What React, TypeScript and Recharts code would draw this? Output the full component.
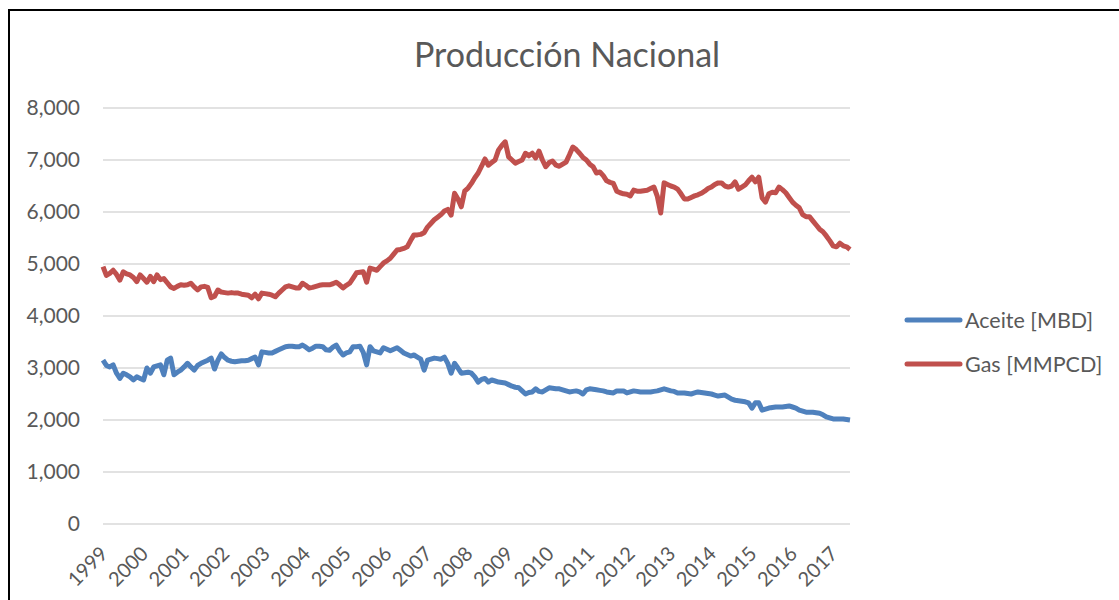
import React from "react";
import { LineChart, Line, XAxis, YAxis, CartesianGrid, Legend } from "recharts";

const START_YEAR = 1999;
const MONTH_COUNT = 222;

// Monthly categories Jan 1999 .. Jun 2017
const months: string[] = Array.from({ length: MONTH_COUNT }, (_, i) =>
  `${START_YEAR + Math.floor(i / 12)}-${String((i % 12) + 1).padStart(2, "0")}`
);

// Tick labels: every January
const yearTicks: string[] = months.filter((m) => m.endsWith("-01"));

const yTicks = [0, 1000, 2000, 3000, 4000, 5000, 6000, 7000, 8000];

// Aceite [MBD]
const oil = [
  3150, 3050, 3020, 3060, 2900, 2800, 2900, 2870, 2830, 2770, 2830, 2800,
  2770, 3000, 2900, 3020, 3040, 3060, 2870, 3150, 3190, 2870, 2920, 2960,
  3020, 3090, 3020, 2960, 3050, 3090, 3120, 3150, 3190, 2980, 3150, 3270,
  3200, 3150, 3130, 3120, 3130, 3140, 3140, 3150, 3180, 3210, 3060, 3310,
  3300, 3290, 3290, 3320, 3350, 3380, 3410, 3420, 3420, 3410, 3410, 3440,
  3400, 3350, 3380, 3420, 3420, 3410, 3350, 3340, 3400, 3440, 3330, 3250,
  3290, 3310, 3410, 3410, 3420, 3300, 3060, 3410, 3330, 3310, 3290, 3390,
  3360, 3330, 3360, 3390, 3340, 3290, 3260, 3230, 3250, 3210, 3170, 2960,
  3150, 3170, 3190, 3180, 3170, 3210, 3090, 2900, 3090, 3000, 2900, 2910,
  2920, 2900, 2830, 2730, 2780, 2800, 2730, 2770, 2750, 2730, 2720, 2710,
  2680, 2650, 2630, 2620, 2560, 2500, 2530, 2540, 2600, 2550, 2540, 2580,
  2620, 2610, 2600, 2600, 2580, 2560, 2540, 2550, 2560, 2540, 2500, 2580,
  2600, 2590, 2580, 2570, 2560, 2540, 2530, 2520, 2560, 2560, 2560, 2520,
  2540, 2560, 2550, 2540, 2540, 2540, 2540, 2550, 2560, 2580, 2600, 2580,
  2560, 2550, 2520, 2520, 2520, 2510, 2500, 2520, 2540, 2530, 2520, 2510,
  2500, 2480, 2460, 2470, 2480, 2440, 2400, 2380, 2370, 2360, 2350, 2330,
  2230, 2330, 2330, 2190, 2210, 2230, 2240, 2250, 2250, 2250, 2260, 2270,
  2250, 2230, 2190, 2170, 2150, 2150, 2150, 2140, 2130, 2100, 2060, 2040,
  2020, 2020, 2020, 2020, 2010, 2000,
];

// Gas [MMPCD]
const gas = [
  4950, 4780, 4820, 4880, 4800, 4690, 4850, 4810, 4790, 4740, 4660, 4790,
  4720, 4650, 4760, 4660, 4790, 4700, 4720, 4640, 4560, 4530, 4570, 4600,
  4590, 4600, 4630, 4560, 4500, 4560, 4570, 4550, 4350, 4380, 4500, 4460,
  4450, 4440, 4450, 4440, 4440, 4420, 4410, 4400, 4350, 4420, 4330, 4440,
  4430, 4420, 4400, 4370, 4440, 4500, 4560, 4580, 4560, 4540, 4540, 4630,
  4590, 4540, 4550, 4570, 4590, 4600, 4600, 4600, 4620, 4650, 4600, 4540,
  4590, 4630, 4730, 4830, 4840, 4850, 4650, 4920, 4900, 4880, 4950, 5020,
  5060, 5110, 5190, 5270, 5280, 5300, 5330, 5450, 5560, 5560, 5570, 5600,
  5710, 5780, 5850, 5900, 5950, 6020, 6050, 5940, 6360, 6250, 6100, 6400,
  6460, 6550, 6660, 6750, 6880, 7020, 6900, 6950, 7000, 7190, 7280, 7350,
  7060, 7000, 6940, 6970, 7000, 7130, 7080, 7130, 7040, 7170, 7000, 6870,
  6950, 6980, 6900, 6880, 6920, 6960, 7100, 7250, 7200, 7130, 7050, 7000,
  6920, 6870, 6750, 6770, 6700, 6600, 6570, 6550, 6400, 6370, 6350, 6340,
  6310, 6420, 6400, 6400, 6410, 6420, 6450, 6480, 6300, 5980, 6560, 6530,
  6500, 6480, 6440, 6350, 6250, 6250, 6280, 6310, 6330, 6360, 6400, 6450,
  6480, 6530, 6560, 6560, 6500, 6480, 6500, 6580, 6440, 6480, 6520, 6600,
  6670, 6580, 6670, 6270, 6190, 6350, 6380, 6370, 6480, 6430, 6370, 6280,
  6190, 6130, 6080, 5950, 5910, 5910, 5830, 5750, 5670, 5620, 5540, 5450,
  5350, 5330, 5400, 5350, 5330, 5280,
];

const data = months.map((m, i) => ({ month: m, oil: oil[i], gas: gas[i] }));

const FONT = "Lato, 'Open Sans', sans-serif";
const TEXT = "#595959";
const BLUE = "#4F81BD";
const RED = "#C0504D";

const YearTick = (props: any) => {
  const { x, y, payload } = props;
  return (
    <g transform={`translate(${x + 1},${y + 18})`}>
      <text
        x={0}
        y={0}
        dy="0.35em"
        textAnchor="end"
        transform="rotate(-45)"
        fill={TEXT}
        fontSize={20}
        fontFamily={FONT}
      >
        {String(payload.value).slice(0, 4)}
      </text>
    </g>
  );
};

const LegendContent = (props: any) => {
  const { payload } = props;
  return (
    <div style={{ fontFamily: FONT, fontSize: 21.5, color: TEXT }}>
      {(payload || []).map((p: any) => (
        <div key={p.value} style={{ display: "flex", alignItems: "center", height: 44 }}>
          <svg width={60} height={10} style={{ marginRight: 1, flexShrink: 0 }}>
            <line x1={3} y1={5} x2={56} y2={5} stroke={p.color} strokeWidth={5} strokeLinecap="round" />
          </svg>
          <span style={{ whiteSpace: "nowrap" }}>{p.value}</span>
        </div>
      ))}
    </div>
  );
};

export default function App() {
  return (
    <div
      style={{
        position: "fixed",
        left: 8,
        top: 9,
        width: 1140,
        height: 620,
        overflow: "hidden",
        boxSizing: "border-box",
        borderTop: "2px solid #000",
        borderLeft: "2px solid #000",
        background: "#fff",
      }}
    >
      <div
        style={{
          position: "absolute",
          left: 0,
          width: 1114,
          top: 22,
          textAlign: "center",
          fontFamily: FONT,
          fontSize: 34,
          color: TEXT,
          lineHeight: "42px",
          whiteSpace: "nowrap",
        }}
      >
        Producción Nacional
      </div>
      <LineChart
        width={1109}
        height={589}
        data={data}
        margin={{ top: 97, right: 269, bottom: 8, left: 0 }}
      >
        <CartesianGrid vertical={false} stroke="#D9D9D9" strokeWidth={1.5} />
        <XAxis
          dataKey="month"
          ticks={yearTicks}
          interval={0}
          tick={<YearTick />}
          tickLine={false}
          axisLine={false}
          height={68}
        />
        <YAxis
          domain={[0, 8000]}
          ticks={yTicks}
          width={93}
          tickLine={false}
          axisLine={false}
          tickSize={0}
          tickMargin={23}
          tickFormatter={(v: number) => v.toLocaleString("en-US")}
          tick={{ fill: TEXT, fontSize: 21, fontFamily: FONT }}
        />
        <Legend
          layout="vertical"
          align="center"
          verticalAlign="middle"
          content={<LegendContent />}
          wrapperStyle={{ position: "absolute", left: 894, top: 287, width: 210 }}
        />
        <Line
          type="linear"
          dataKey="oil"
          name="Aceite [MBD]"
          stroke={BLUE}
          strokeWidth={5}
          dot={false}
          strokeLinejoin="round"
          isAnimationActive={false}
        />
        <Line
          type="linear"
          dataKey="gas"
          name="Gas [MMPCD]"
          stroke={RED}
          strokeWidth={5}
          dot={false}
          strokeLinejoin="round"
          isAnimationActive={false}
        />
      </LineChart>
    </div>
  );
}
